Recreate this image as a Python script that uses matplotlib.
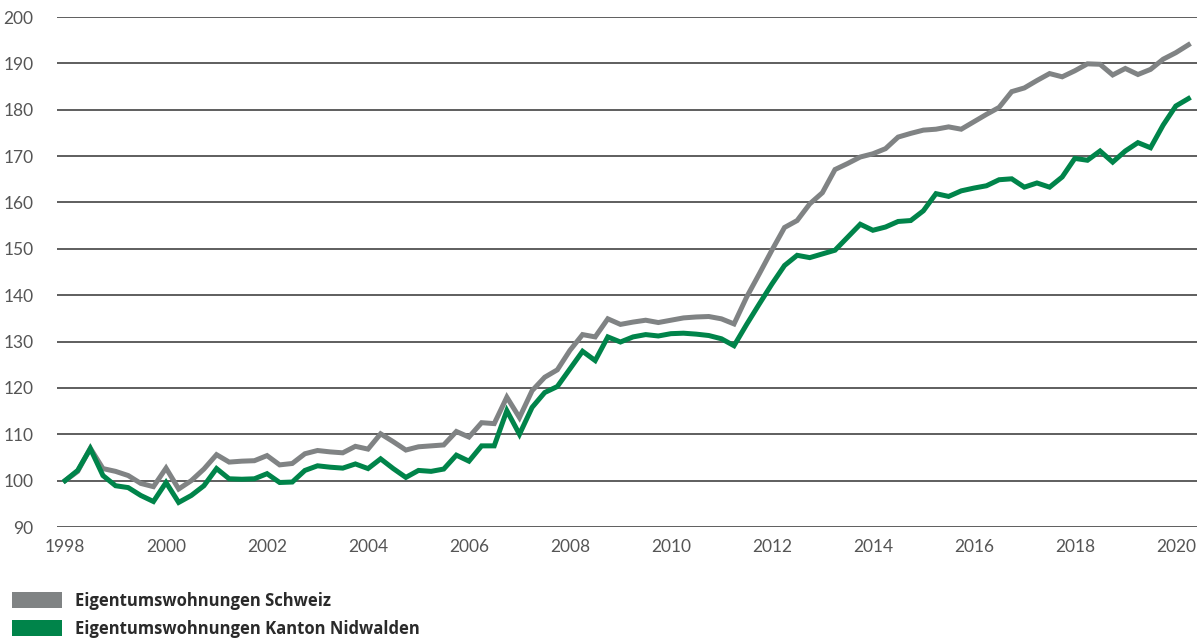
import matplotlib
matplotlib.use("Agg")
import matplotlib.pyplot as plt
from matplotlib.patches import Rectangle
import numpy as np

# Quarterly index values, 1998 Q1 = 100
start_year = 1998
schweiz = [100.0, 102.0, 107.0, 102.6, 102.0, 101.1, 99.4, 98.7, 102.7, 98.2,
           100.0, 102.5, 105.6, 104.0, 104.2, 104.3, 105.4, 103.4, 103.7, 105.8,
           106.5, 106.2, 106.0, 107.4, 106.8, 110.1, 108.4, 106.6, 107.3, 107.5,
           107.7, 110.6, 109.4, 112.5, 112.3, 118.0, 113.6, 119.4, 122.3, 123.9,
           128.1, 131.5, 131.0, 134.9, 133.7, 134.2, 134.6, 134.1, 134.6, 135.1,
           135.3, 135.4, 134.9, 133.8, 139.6, 144.6, 149.7, 154.6, 156.1, 159.7,
           162.1, 167.1, 168.4, 169.8, 170.5, 171.6, 174.1, 174.9, 175.6, 175.8,
           176.3, 175.8, 177.4, 179.0, 180.5, 183.9, 184.7, 186.3, 187.8, 187.1,
           188.4, 189.9, 189.8, 187.5, 188.9, 187.6, 188.7, 190.9, 192.3, 194.0]
nidwalden = [100.0, 102.2, 106.9, 101.1, 98.9, 98.5, 96.8, 95.5, 99.6, 95.3,
             96.8, 98.9, 102.6, 100.4, 100.3, 100.4, 101.5, 99.6, 99.7, 102.2,
             103.2, 102.9, 102.7, 103.6, 102.6, 104.7, 102.6, 100.7, 102.2, 102.0,
             102.5, 105.5, 104.2, 107.5, 107.5, 115.1, 110.0, 115.8, 119.0, 120.3,
             124.1, 127.9, 125.9, 131.0, 129.9, 131.0, 131.5, 131.2, 131.7, 131.8,
             131.6, 131.3, 130.6, 129.1, 133.7, 138.1, 142.4, 146.4, 148.6, 148.1,
             148.9, 149.7, 152.5, 155.3, 154.0, 154.7, 155.9, 156.1, 158.2, 161.9,
             161.3, 162.5, 163.1, 163.6, 164.9, 165.1, 163.3, 164.2, 163.3, 165.5,
             169.5, 169.1, 171.1, 168.7, 171.1, 172.9, 171.8, 176.7, 180.8, 182.4]
x_ticks = list(range(1998, 2021, 2))
y_ticks = list(range(90, 201, 10))
labels = ["Eigentumswohnungen Schweiz", "Eigentumswohnungen Kanton Nidwalden"]
colors = ["#808384", "#00844a"]

x = start_year + np.arange(len(schweiz)) / 4.0

plt.rcParams['font.family'] = ['Lato', 'DejaVu Sans']
fig = plt.figure(figsize=(12.04, 6.41), dpi=100)
ax = fig.add_axes([57/1204, 1 - 527/641, (1197 - 57)/1204, (527 - 17)/641])

ax.plot(x, schweiz, color=colors[0], lw=3.6, solid_joinstyle='miter', zorder=3, clip_on=False)
ax.plot(x, nidwalden, color=colors[1], lw=3.6, solid_joinstyle='miter', zorder=4, clip_on=False)

ax.set_ylim(90, 200)
ax.set_xlim(1997.84, 2020.42)
ax.set_yticks(y_ticks)
ax.set_xticks(x_ticks)
ax.set_xticklabels([str(t) for t in x_ticks])
ax.yaxis.grid(True, color="#333333", lw=1.1, zorder=1)
ax.set_axisbelow(True)
for s in ax.spines.values():
    s.set_visible(False)
ax.tick_params(axis='both', length=0, labelsize=12.5, labelcolor="#555555")
ax.tick_params(axis='y', pad=17)
ax.tick_params(axis='x', pad=9)

# Legend
for i, (lab, col) in enumerate(zip(labels, colors)):
    ytop = 592 + i * 28
    fig.patches.append(Rectangle((12/1204, 1 - (ytop + 16)/641), 50/1204, 16/641,
                                 transform=fig.transFigure, facecolor=col,
                                 edgecolor='none', figure=fig))
    fig.text(75/1204, 1 - (ytop + 8.5)/641, lab, fontsize=12, fontweight='bold',
             family=['Open Sans', 'DejaVu Sans'],
             color="#2a2a2a", va='center', ha='left')

fig.savefig("out.png", dpi=100)
